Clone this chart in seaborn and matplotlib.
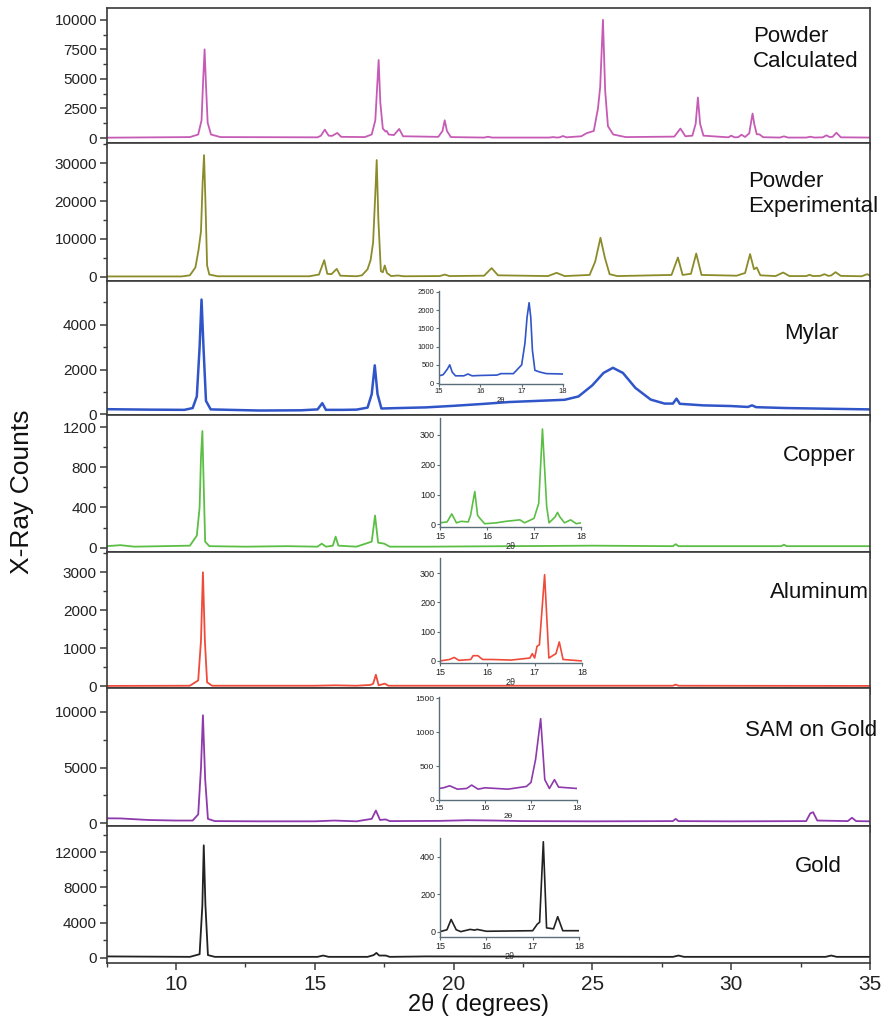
import matplotlib
matplotlib.use("Agg")
import matplotlib.pyplot as plt
import seaborn as sns
from matplotlib.ticker import MultipleLocator

sns.set_style("ticks")
plt.rcParams['font.family'] = ['Liberation Sans', 'DejaVu Sans']

# ---------------- data ----------------
labels = ["Powder\nCalculated", "Powder\nExperimental", "Mylar", "Copper",
          "Aluminum", "SAM on Gold", "Gold"]
colors = ['#c65bb5', '#8b8b2a', '#2f55c8', '#5bbf45', '#ef4b3a', '#8e3aad', '#222222']

calc_x = [7.5, 10.5, 10.8, 10.92, 10.98, 11.03, 11.08, 11.14, 11.26, 11.6,
          15.1, 15.22, 15.36, 15.5, 15.62, 15.81, 15.95,
          16.8, 17.05, 17.18, 17.25, 17.3, 17.36, 17.45, 17.55, 17.59, 17.66, 17.85, 18.04, 18.18,
          19.45, 19.6, 19.68, 19.76, 19.9, 21.1, 21.24, 21.38,
          23.45, 23.58, 23.72, 23.82, 23.94, 24.06,
          24.6, 24.8, 24.89, 25.05, 25.2, 25.28, 25.38, 25.46, 25.56, 25.75, 26.2,
          27.95, 28.17, 28.35, 28.6, 28.72, 28.8, 28.88, 29.0,
          29.9, 30.0, 30.12, 30.25, 30.37, 30.5, 30.65, 30.72, 30.77, 30.83, 30.92, 31.02, 31.15,
          31.75, 31.9, 32.05, 32.7, 32.85, 33.0, 33.3, 33.43, 33.55, 33.65, 33.79, 33.95, 35.0]
calc_y = [30, 80, 300, 1500, 5000, 7500, 4500, 1300, 300, 80,
          60, 200, 710, 200, 180, 430, 100,
          80, 300, 1500, 4500, 6600, 3000, 800, 550, 600, 300, 250, 770, 150,
          100, 600, 1500, 600, 80, 40, 110, 40,
          40, 80, 40, 60, 170, 60,
          150, 420, 480, 600, 2500, 4300, 10000, 4000, 1000, 300, 80,
          120, 800, 150, 200, 1200, 3430, 1200, 200,
          60, 200, 60, 70, 280, 90, 400, 1400, 2070, 1200, 320, 310, 70,
          40, 140, 40, 40, 110, 40, 60, 230, 80, 100, 450, 60, 40]

exp_x = [7.5, 10.2, 10.5, 10.7, 10.81, 10.9, 10.96, 11.01, 11.06, 11.12, 11.2, 11.5,
         14.8, 15.15, 15.34, 15.45, 15.6, 15.79, 15.92, 16.5,
         16.7, 16.9, 17.01, 17.1, 17.18, 17.23, 17.29, 17.38, 17.45, 17.52, 17.6, 17.75, 18.0, 18.2,
         19.5, 19.68, 19.85, 21.1, 21.37, 21.6, 23.4, 23.71, 24.0,
         24.9, 25.1, 25.29, 25.45, 25.62, 25.9,
         27.85, 28.08, 28.25, 28.55, 28.74, 28.93,
         30.2, 30.36, 30.5, 30.68, 30.82, 30.92, 31.05,
         31.6, 31.87, 32.1, 32.7, 32.82, 32.95, 33.2, 33.36, 33.5, 33.6, 33.76, 33.95,
         34.7, 34.9, 35.0]
exp_y = [100, 100, 400, 2500, 7000, 12000, 25000, 32100, 20000, 3000, 600, 150,
         150, 600, 4400, 800, 700, 2100, 300, 150,
         400, 2000, 4400, 9000, 22000, 30800, 15000, 1500, 1200, 3000, 1000, 200, 350, 150,
         200, 600, 200, 300, 2300, 400, 200, 1050, 200,
         500, 4000, 10300, 5000, 700, 200,
         500, 5100, 500, 800, 6150, 500,
         300, 700, 1000, 6000, 2000, 2460, 400,
         200, 1140, 200, 200, 530, 200, 250, 700, 250, 350, 1230, 250,
         150, 700, 300]

mylar_x = [7.5, 9.0, 10.3, 10.6, 10.75, 10.85, 10.92, 10.99, 11.08, 11.25, 13.0, 14.5,
           15.1, 15.27, 15.4, 16.0, 16.5, 16.9, 17.05, 17.16, 17.26, 17.4, 18.0,
           19.0, 20.0, 21.0, 22.0, 23.0, 24.0, 24.5, 25.0, 25.4, 25.74, 26.1, 26.55,
           27.1, 27.6, 27.9, 28.03, 28.15, 29.0, 30.0, 30.6, 30.75, 30.9, 32.0, 33.5, 35.0]
mylar_y = [230, 210, 200, 280, 800, 3000, 5130, 3000, 600, 220, 170, 180,
           220, 500, 200, 200, 210, 300, 900, 2190, 900, 260, 280,
           310, 380, 460, 550, 600, 650, 800, 1300, 1850, 2080, 1850, 1180,
           660, 480, 480, 700, 470, 400, 370, 330, 400, 320, 280, 250, 220]

copper_x = [7.5, 8.0, 8.5, 9.5, 10.5, 10.75, 10.85, 10.9, 10.95, 11.0, 11.05, 11.2,
            12.5, 14.0, 15.1, 15.25, 15.4, 15.65, 15.75, 15.85, 16.5,
            17.05, 17.17, 17.28, 17.5, 17.7, 19.0, 22.0, 25.0,
            27.9, 28.0, 28.1, 31.8, 31.9, 32.0, 35.0]
copper_y = [15, 25, 10, 15, 20, 120, 400, 900, 1160, 600, 60, 15,
            10, 15, 10, 40, 10, 20, 110, 20, 10,
            60, 320, 50, 40, 10, 10, 15, 20,
            15, 35, 15, 15, 30, 15, 15]

alu_x = [7.5, 10.5, 10.8, 10.9, 10.97, 11.04, 11.12, 11.3, 15.0, 15.75, 16.5,
         17.0, 17.1, 17.2, 17.3, 17.52, 17.65, 27.9, 28.0, 28.1, 35.0]
alu_y = [5, 10, 150, 1200, 3000, 1200, 100, 10, 10, 20, 10,
         30, 60, 300, 20, 65, 10, 10, 40, 10, 5]

sam_x = [7.5, 8.0, 9.0, 10.0, 10.6, 10.8, 10.9, 10.97, 11.05, 11.15, 11.4, 13.0,
         15.0, 15.7, 16.5, 17.05, 17.2, 17.35, 17.55, 17.7, 19.5, 20.5, 21.5, 22.5,
         25.0, 27.9, 28.0, 28.1, 30.0, 32.7, 32.85, 32.95, 33.1, 34.2, 34.35, 34.5, 35.0]
sam_y = [450, 440, 300, 250, 250, 800, 5000, 9700, 4000, 400, 200, 180,
         180, 250, 180, 400, 1150, 300, 350, 200, 220, 280, 250, 200,
         180, 200, 400, 200, 180, 200, 900, 1000, 250, 200, 500, 200, 180]

gold_x = [7.5, 10.5, 10.85, 10.95, 11.0, 11.06, 11.15, 11.4, 15.1, 15.3, 15.5,
          16.9, 17.12, 17.22, 17.32, 17.55, 17.7, 19.0, 27.9, 28.1, 28.3,
          33.4, 33.6, 33.8, 35.0]
gold_y = [150, 100, 400, 6000, 12800, 6000, 300, 100, 100, 250, 100,
          100, 300, 550, 250, 250, 100, 150, 100, 250, 100,
          100, 250, 100, 100]

# inset data (15-18 degrees zoom)
ins_mylar_x = [15.0, 15.1, 15.2, 15.26, 15.32, 15.4, 15.6, 15.7, 15.8, 16.0, 16.4, 16.5,
               16.8, 17.0, 17.08, 17.13, 17.18, 17.22, 17.26, 17.32, 17.45, 17.6, 18.0]
ins_mylar_y = [200, 230, 380, 500, 300, 200, 200, 250, 200, 210, 220, 260,
               260, 500, 1100, 1800, 2200, 1800, 900, 350, 300, 260, 250]

ins_cu_x = [15.0, 15.15, 15.25, 15.35, 15.45, 15.6, 15.65, 15.74, 15.8, 15.85, 15.95,
            16.2, 16.4, 16.7, 16.8, 17.0, 17.1, 17.18, 17.27, 17.32, 17.45, 17.5,
            17.55, 17.65, 17.78, 17.9, 18.0]
ins_cu_y = [5, 8, 35, 5, 10, 8, 30, 110, 30, 20, 2,
            5, 10, 15, 5, 20, 70, 320, 60, 5, 25, 40,
            25, 5, 15, 2, 5]

ins_al_x = [15.0, 15.2, 15.3, 15.4, 15.65, 15.7, 15.8, 15.9, 16.1, 16.5, 16.9, 16.95,
            17.0, 17.05, 17.1, 17.21, 17.3, 17.4, 17.45, 17.52, 17.6, 18.0]
ins_al_y = [0, 5, 12, 2, 5, 18, 18, 5, 5, 3, 10, 25,
            10, 50, 55, 295, 10, 20, 25, 65, 5, 0]

ins_sam_x = [15.0, 15.1, 15.23, 15.4, 15.6, 15.71, 15.85, 16.0, 16.5, 16.9, 17.0,
             17.1, 17.21, 17.3, 17.4, 17.51, 17.6, 18.0]
ins_sam_y = [170, 180, 210, 160, 170, 220, 160, 180, 160, 200, 260,
             600, 1200, 300, 170, 300, 190, 170]

ins_au_x = [15.0, 15.15, 15.24, 15.35, 15.45, 15.65, 15.75, 15.8, 16.0, 17.0, 17.1,
            17.15, 17.23, 17.3, 17.45, 17.54, 17.65, 18.0]
ins_au_y = [0, 10, 65, 10, 0, 12, 8, 12, 2, 5, 40,
            50, 480, 20, 15, 80, 5, 5]

x_ticks = [10, 15, 20, 25, 30, 35]
inset_x_ticks = [15, 16, 17, 18]

series = [(calc_x, calc_y), (exp_x, exp_y), (mylar_x, mylar_y), (copper_x, copper_y),
          (alu_x, alu_y), (sam_x, sam_y), (gold_x, gold_y)]

# ---------------- layout ----------------
W, H = 882, 1026
fig = plt.figure(figsize=(W / 100, H / 100), dpi=100)
bounds = [8, 143, 281, 415, 552, 688, 826, 963]
left_px, right_px = 106.6, 870
ylims = [(-420, 11000), (-1100, 35300), (-30, 5960), (-43, 1320),
         (-50, 3535), (-240, 12150), (-600, 15000)]
ymaj = [2500, 10000, 2000, 400, 1000, 5000, 4000]
ymin = [1250, 5000, 1000, 200, 500, 2500, 2000]
text_pos = [(753, 49), (748, 194), (784, 334), (783, 455), (770, 593), (745, 730), (795, 866)]
spine_c = '#3a3a3a'

for i, ((xs, ys), col) in enumerate(zip(series, colors)):
    top, bot = bounds[i], bounds[i + 1]
    ax = fig.add_axes([left_px / W, 1 - bot / H, (right_px - left_px) / W, (bot - top) / H])
    sns.lineplot(x=xs, y=ys, ax=ax, color=col, lw=1.8 if i == 2 else 1.3,
                 estimator=None, sort=False)
    ax.set_xlim(7.5, 35)
    ax.set_xticks(x_ticks)
    ax.xaxis.set_minor_locator(MultipleLocator(2.5))
    ax.yaxis.set_major_locator(MultipleLocator(ymaj[i]))
    ax.yaxis.set_minor_locator(MultipleLocator(ymin[i]))
    ax.set_ylim(*ylims[i])
    for s in ax.spines.values():
        s.set_color(spine_c)
        s.set_linewidth(1.2)
    ax.tick_params(axis='both', which='major', direction='out', length=5, width=1.1,
                   color=spine_c, labelsize=11, labelcolor='#222222', pad=2)
    ax.tick_params(axis='both', which='minor', direction='out', length=3, width=1.0,
                   color=spine_c)
    ax.tick_params(axis='x', which='major', labelsize=15, pad=4)
    if i < 6:
        ax.tick_params(axis='x', labelbottom=False)
    ax.set_xlabel('')
    ax.set_ylabel('')
    fig.text(text_pos[i][0] / W, 1 - text_pos[i][1] / H, labels[i], fontsize=16,
             ha='left', va='center', color='#111111', linespacing=1.2)

# ---------------- insets ----------------
insets = [
    (ins_mylar_x, ins_mylar_y, colors[2], (439, 563, 383.5, 291), (-10, 2520), 500, 5.5),
    (ins_cu_x, ins_cu_y, colors[3], (440, 581, 526.7, 418), (-8, 357), 100, 6.5),
    (ins_al_x, ins_al_y, colors[4], (440, 582, 662.7, 558), (-6, 352), 100, 6.5),
    (ins_sam_x, ins_sam_y, colors[5], (439, 577, 800, 697), (0, 1520), 500, 6.0),
    (ins_au_x, ins_au_y, colors[6], (440, 579, 936.7, 838), (-27, 500), 200, 6.5),
]
ins_c = '#5a6e7a'
for xs, ys, col, (l, r, b, t), yl, ystep, fs in insets:
    ia = fig.add_axes([l / W, 1 - b / H, (r - l) / W, (b - t) / H])
    sns.lineplot(x=xs, y=ys, ax=ia, color=col, lw=1.2, estimator=None, sort=False)
    ia.set_xlim(15, 18)
    ia.set_xticks(inset_x_ticks)
    ia.yaxis.set_major_locator(MultipleLocator(ystep))
    ia.set_ylim(*yl)
    ia.patch.set_alpha(0)
    for side in ['top', 'right']:
        ia.spines[side].set_visible(False)
    for side in ['left', 'bottom']:
        ia.spines[side].set_color(ins_c)
        ia.spines[side].set_linewidth(1.0)
    ia.tick_params(axis='both', direction='out', length=2.5, width=0.8, color=ins_c,
                   labelsize=fs, labelcolor='#222222', pad=1)
    ia.set_ylabel('')
    ia.set_xlabel('2θ', fontsize=fs, labelpad=1, color='#222222')

fig.text(22 / W, 1 - 492 / H, 'X-Ray Counts', rotation=90, fontsize=19,
         ha='center', va='center', color='#111111')
fig.text(478 / W, 1 - 1005 / H, '2θ ( degrees)', fontsize=17,
         ha='center', va='center', color='#111111')

fig.savefig('out.png', dpi=100, facecolor='white')
